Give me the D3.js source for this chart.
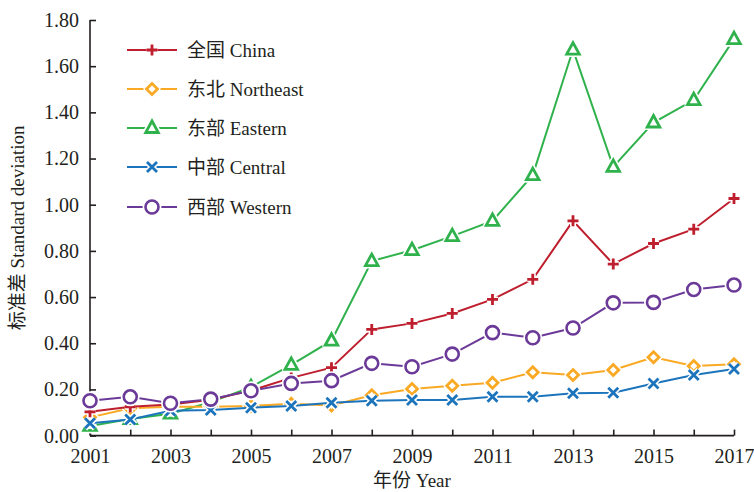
<!DOCTYPE html>
<html>
<head>
<meta charset="utf-8">
<script src="https://cdn.jsdelivr.net/npm/d3@7"></script>
<style>
  body { margin: 0; background: #fff; }
  text { font-family: "Liberation Serif", "Noto Sans CJK SC", serif; fill: #231f20; }
  .axis path, .axis line { stroke: #231f20; stroke-width: 1.6; }
</style>
</head>
<body>
<div id="chart"></div>
<script>
// years on the x axis
var years = d3.range(2001, 2018);
var yTicks = [0, 0.2, 0.4, 0.6, 0.8, 1.0, 1.2, 1.4, 1.6, 1.8];
var xTicks = [2001, 2003, 2005, 2007, 2009, 2011, 2013, 2015, 2017];

// standard deviation values
var china     = [0.103, 0.125, 0.135, 0.155, 0.195, 0.25, 0.294, 0.46, 0.486, 0.529, 0.59, 0.677, 0.93, 0.743, 0.832, 0.894, 1.027];
var northeast = [0.079, 0.118, 0.125, 0.125, 0.128, 0.138, 0.13, 0.175, 0.202, 0.216, 0.229, 0.274, 0.262, 0.284, 0.339, 0.301, 0.309];
var eastern   = [0.042, 0.072, 0.095, 0.145, 0.21, 0.306, 0.411, 0.756, 0.803, 0.864, 0.93, 1.128, 1.672, 1.164, 1.356, 1.453, 1.717];
var central   = [0.053, 0.07, 0.108, 0.111, 0.121, 0.128, 0.142, 0.151, 0.154, 0.154, 0.168, 0.168, 0.183, 0.186, 0.226, 0.262, 0.288];
var western   = [0.151, 0.168, 0.14, 0.158, 0.194, 0.226, 0.238, 0.313, 0.298, 0.353, 0.446, 0.424, 0.466, 0.575, 0.577, 0.633, 0.652];

var seriesNames = ["全国 China", "东北 Northeast", "东部 Eastern", "中部 Central", "西部 Western"];
var seriesColors = ["#be1e2d", "#f9a923", "#2fb24c", "#1c75bc", "#6b3a98"];
var seriesMarks = ["plus", "diamond", "triangle", "cross", "circle"];
var seriesValues = [china, northeast, eastern, central, western];

var width = 754, height = 492;
var margin = {top: 20, right: 20, bottom: 56, left: 90};

var svg = d3.select("#chart").append("svg")
    .attr("width", width)
    .attr("height", height);

var x = d3.scaleLinear().domain([2001, 2017]).range([margin.left, 734]);
var y = d3.scaleLinear().domain([0, 1.8]).range([435.6, margin.top]);

// axes, ticks point inward
svg.append("g")
    .attr("class", "axis")
    .attr("transform", "translate(0," + y(0) + ")")
    .call(d3.axisBottom(x).tickValues(years).tickSizeInner(-6).tickSizeOuter(0)
      .tickFormat(function(d) { return xTicks.indexOf(d) >= 0 ? d : ""; }).tickPadding(10))
    .call(function(g) { g.select(".domain").attr("d", "M" + x(2001) + ",0H" + x(2017)); })
    .selectAll("text").attr("font-size", "20px").attr("dy", "0.85em");

svg.append("g")
    .attr("class", "axis")
    .attr("transform", "translate(" + x(2001) + ",0)")
    .call(d3.axisLeft(y).tickValues(yTicks).tickSizeInner(-6).tickSizeOuter(0)
      .tickFormat(d3.format(".2f")).tickPadding(11))
    .call(function(g) { g.select(".domain").attr("d", "M0," + y(1.8) + "V" + y(0)); })
    .selectAll("text").attr("font-size", "20px");

svg.selectAll(".axis text").style("font-family", "'Liberation Serif', serif").attr("fill", "#231f20");

// axis titles
svg.append("text")
    .attr("x", (x(2001) + x(2017)) / 2)
    .attr("y", 487)
    .attr("text-anchor", "middle")
    .attr("font-size", "19px")
    .text("年份 Year");

svg.append("text")
    .attr("transform", "translate(24," + (y(0) + y(1.8)) / 2 + ") rotate(-90)")
    .attr("text-anchor", "middle")
    .attr("font-size", "19px")
    .text("标准差 Standard deviation");

// marker drawing
function drawMark(g, type, color, cx, cy) {
  var s = 5.5;
  var d;
  if (type == "plus") d = "M" + (cx - s) + "," + cy + "H" + (cx + s) + "M" + cx + "," + (cy - s) + "V" + (cy + s);
  else if (type == "cross") d = "M" + (cx - 5) + "," + (cy - 5) + "L" + (cx + 5) + "," + (cy + 5) + "M" + (cx - 5) + "," + (cy + 5) + "L" + (cx + 5) + "," + (cy - 5);
  else if (type == "diamond") d = "M" + cx + "," + (cy - 5.5) + "L" + (cx + 5.5) + "," + cy + "L" + cx + "," + (cy + 5.5) + "L" + (cx - 5.5) + "," + cy + "Z";
  else if (type == "triangle") d = "M" + cx + "," + (cy - 7) + "L" + (cx + 6.3) + "," + (cy + 4.5) + "L" + (cx - 6.3) + "," + (cy + 4.5) + "Z";
  if (type == "circle") {
    g.append("circle").attr("cx", cx).attr("cy", cy).attr("r", 6.5)
      .attr("fill", "#fff").attr("stroke", "#fff").attr("stroke-width", 6);
    g.append("circle").attr("cx", cx).attr("cy", cy).attr("r", 6.5)
      .attr("fill", "#fff").attr("stroke", color).attr("stroke-width", 2.6);
  } else {
    var filled = (type == "diamond" || type == "triangle") ? "#fff" : "none";
    g.append("path").attr("d", d).attr("fill", filled)
      .attr("stroke", "#fff").attr("stroke-width", 6).attr("stroke-linejoin", "round");
    g.append("path").attr("d", d).attr("fill", filled)
      .attr("stroke", color).attr("stroke-width", 2.8);
  }
}

var line = d3.line()
    .x(function(d, i) { return x(years[i]); })
    .y(function(d) { return y(d); });

// draw order: eastern at the bottom, western on top
var order = [2, 1, 0, 3, 4];
order.forEach(function(k) {
  var g = svg.append("g");
  g.append("path")
    .datum(seriesValues[k])
    .attr("d", line)
    .attr("fill", "none")
    .attr("stroke", seriesColors[k])
    .attr("stroke-width", 2);
  seriesValues[k].forEach(function(v, i) {
    drawMark(g, seriesMarks[k], seriesColors[k], x(years[i]), y(v));
  });
});

// legend
var legendY = [50, 89, 128, 167, 207];
seriesNames.forEach(function(name, k) {
  var g = svg.append("g");
  g.append("line")
    .attr("x1", 127).attr("x2", 177)
    .attr("y1", legendY[k]).attr("y2", legendY[k])
    .attr("stroke", seriesColors[k]).attr("stroke-width", 2);
  drawMark(g, seriesMarks[k], seriesColors[k], 152, legendY[k]);
  g.append("text")
    .attr("x", 187).attr("y", legendY[k])
    .attr("dy", "0.35em")
    .attr("font-size", "19px")
    .text(name);
});
</script>
</body>
</html>
